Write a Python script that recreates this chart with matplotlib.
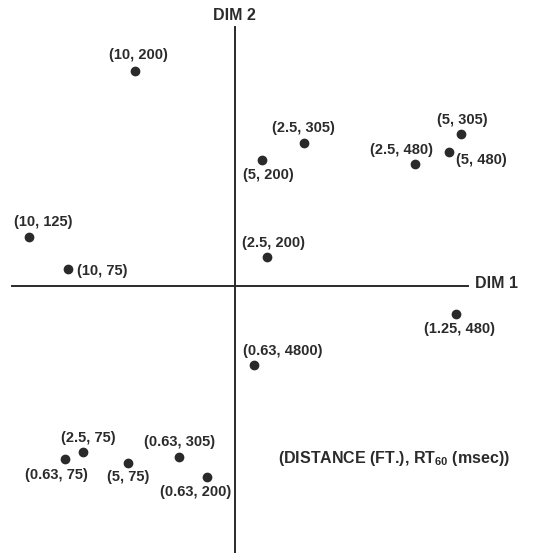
import matplotlib
matplotlib.use("Agg")
import matplotlib.pyplot as plt

# MDS coordinates (DIM 1, DIM 2)
labels = ["(10, 200)", "(2.5, 305)", "(5, 200)", "(5, 305)", "(5, 480)", "(2.5, 480)",
          "(10, 125)", "(2.5, 200)", "(10, 75)", "(1.25, 480)", "(0.63, 4800)",
          "(2.5, 75)", "(0.63, 75)", "(5, 75)", "(0.63, 305)", "(0.63, 200)"]
dim1 = [-1.00, 0.69, 0.27, 2.26, 2.14, 1.80, -2.06, 0.32, -1.67, 2.21, 0.19,
        -1.52, -1.70, -1.07, -0.56, -0.28]
dim2 = [2.15, 1.43, 1.26, 1.52, 1.34, 1.22, 0.49, 0.29, 0.17, -0.28, -0.79,
        -1.66, -1.73, -1.77, -1.71, -1.91]

# label offsets in pixels (dx, dy, ha)
offsets = [(3, 16, "center"), (-1, 15, "center"), (6, -15, "center"), (1, 14, "center"),
           (7, -8, "left"), (-14, 14, "center"), (14, 15, "center"), (7, 14, "center"),
           (9, -2, "left"), (4, -15, "center"), (29, 14, "center"), (5, 14, "center"),
           (-9, -16, "center"), (0, -14, "center"), (1, 15, "center"), (-11, -15, "center")]

plt.rcParams['font.family'] = ['Liberation Sans', 'DejaVu Sans']
plt.rcParams['mathtext.fontset'] = 'custom'
plt.rcParams['mathtext.bf'] = 'Liberation Sans:bold'
plt.rcParams['mathtext.rm'] = 'Liberation Sans:bold'

tc = "#2b2b2b"
fig = plt.figure(figsize=(5.48, 5.53), dpi=100)
ax = fig.add_axes([0, 0, 1, 1])
ax.set_xlim(-2.35, 3.13)
ax.set_ylim(-2.67, 2.86)
ax.axis("off")

ax.plot([-2.23, 2.33], [0, 0], color="#2a2a2a", lw=1.4)
ax.plot([0, 0], [-2.67, 2.59], color="#2a2a2a", lw=1.4)
ax.text(2.40, 0.02, "DIM 1", ha="left", va="center", fontsize=11.5, fontweight="bold", color=tc)
ax.text(-0.01, 2.70, "DIM 2", ha="center", va="center", fontsize=11.5, fontweight="bold", color=tc)

ax.plot(dim1, dim2, "o", color="#2a2a2a", markersize=6, linestyle="none")
for lab, x, y, (dx, dy, ha) in zip(labels, dim1, dim2, offsets):
    ax.annotate(lab, (x, y), xytext=(dx, dy), textcoords="offset pixels",
                ha=ha, va="center", fontsize=10.5, fontweight="bold", color=tc)

ax.text(1.59, -1.73, r"(DISTANCE (FT.), RT$_{\mathbf{60}}$ (msec))", ha="center", va="center",
        fontsize=11.5, fontweight="bold", color=tc)

fig.savefig("out.png", dpi=100)
